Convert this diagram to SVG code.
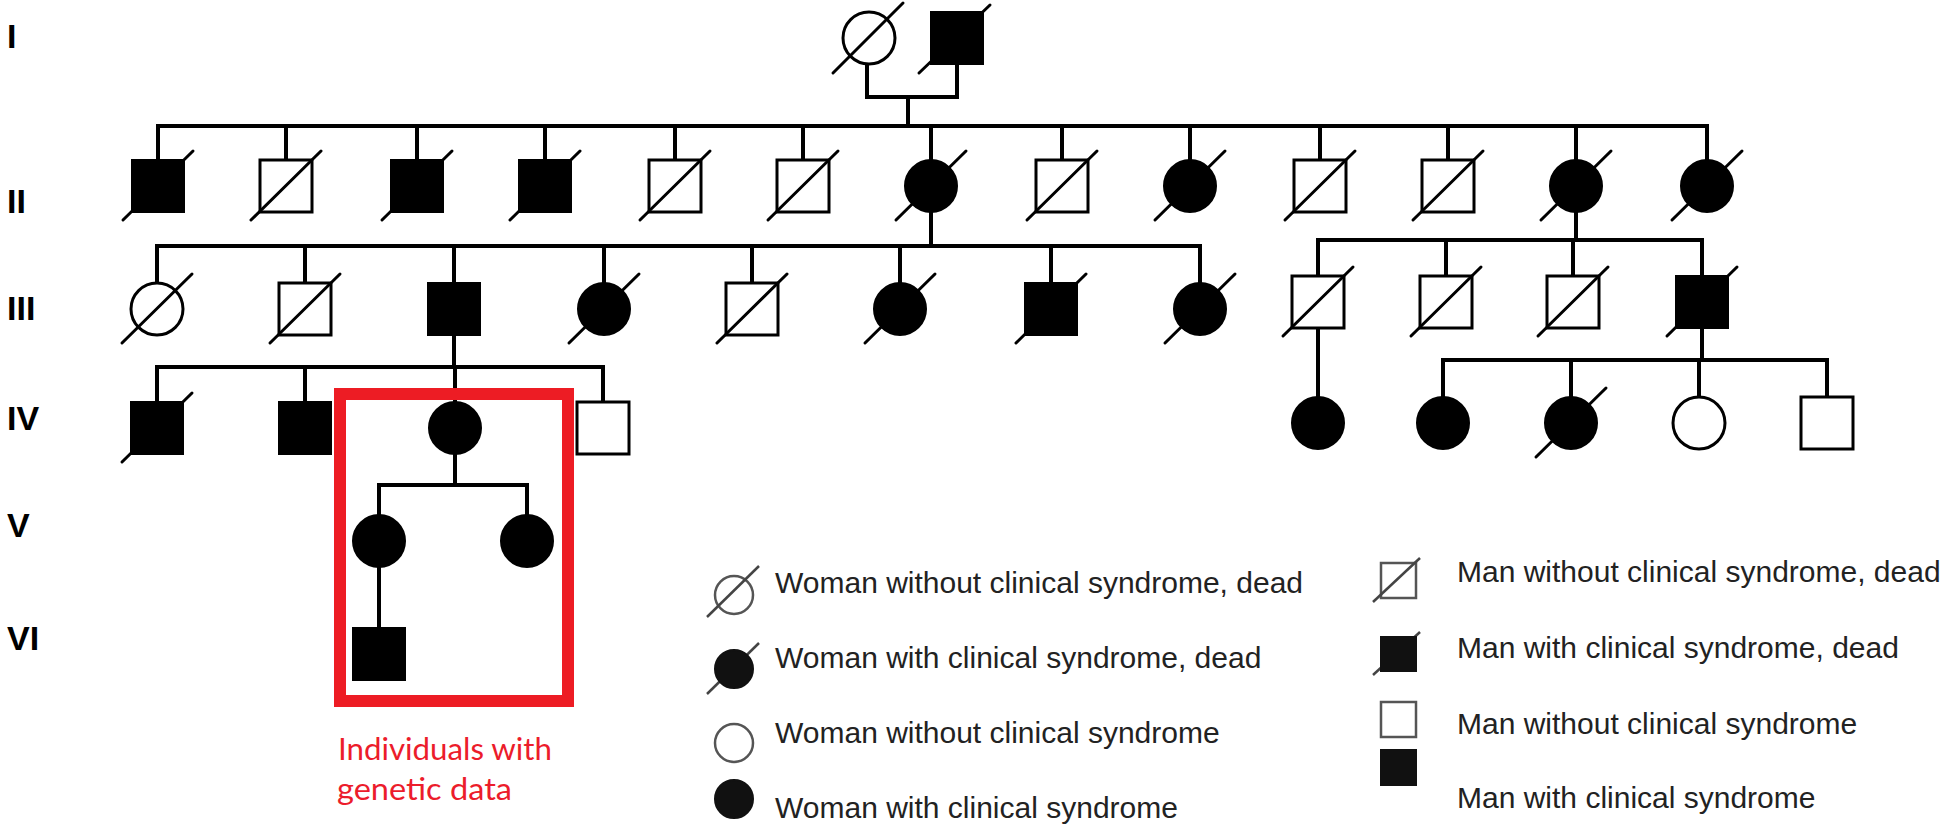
<svg xmlns="http://www.w3.org/2000/svg" width="1946" height="827" viewBox="0 0 1946 827">
<style>
.ln{stroke:#000;stroke-width:4;fill:none;stroke-linecap:square}
.f{fill:#000;stroke:#000;stroke-width:2}
.e{fill:#fff;stroke:#000;stroke-width:3}
.d{stroke:#000;stroke-width:3;stroke-linecap:round}
.gen{font-family:"Liberation Sans",Arial,sans-serif;font-weight:bold;font-size:34px;fill:#000}
.lg{font-family:"Liberation Sans",Arial,sans-serif;font-size:30px;fill:#222}
.le{fill:#fff;stroke:#555;stroke-width:2.5}
.lf{fill:#111;stroke:#111;stroke-width:2}
.ld{stroke:#444;stroke-width:2.5}
.red{font-family:Lato,"Open Sans",sans-serif;font-size:30px;fill:#ec1c2b}
</style>
<rect width="1946" height="827" fill="#fff"/>

<g id="generations">
<text class="gen" x="7" y="48">I</text>
<text class="gen" x="7" y="213">II</text>
<text class="gen" x="7" y="320">III</text>
<text class="gen" x="7" y="430">IV</text>
<text class="gen" x="7" y="537">V</text>
<text class="gen" x="7" y="650">VI</text>
</g>

<g id="connectors" class="ln">
<path d="M867 64V97H957V64M908 97V126"/>
<path d="M158 126H1707"/>
<path d="M158 126V160M286 126V160M417 126V160M545 126V160M675 126V160M803 126V160M931 126V160M1062 126V160M1190 126V160M1320 126V160M1448 126V160M1576 126V160M1707 126V160"/>
<path d="M931 212V246M157 246H1200"/>
<path d="M157 246V283M305 246V283M454 246V283M604 246V283M752 246V283M900 246V283M1051 246V283M1200 246V283"/>
<path d="M1576 212V240M1318 240H1702"/>
<path d="M1318 240V276M1446 240V276M1573 240V276M1702 240V276"/>
<path d="M454 335V367M157 367H603"/>
<path d="M157 367V402M305 367V402M455 367V402M603 367V402"/>
<path d="M1318 328V397"/>
<path d="M1702 328V360M1443 360H1827"/>
<path d="M1443 360V397M1571 360V397M1699 360V397M1827 360V397"/>
<path d="M455 454V485M379 485H527M379 485V515M527 485V515"/>
<path d="M379 567V628"/>
</g>

<g id="I-1"><circle class="e" cx="869" cy="38" r="26" stroke-width="2.5"/><line class="d" x1="833" y1="73" x2="903" y2="3"/></g>
<g id="I-2"><rect class="f" x="931" y="12" width="52" height="52"/><line class="d" x1="919" y1="73" x2="990" y2="5"/></g>

<g id="II-1"><rect class="f" x="132" y="160" width="52" height="52"/><line class="d" x1="123" y1="220" x2="193" y2="151"/></g>
<g id="II-2"><rect class="e" x="260" y="160" width="52" height="52"/><line class="d" x1="251" y1="220" x2="321" y2="151"/></g>
<g id="II-3"><rect class="f" x="391" y="160" width="52" height="52"/><line class="d" x1="382" y1="220" x2="452" y2="151"/></g>
<g id="II-4"><rect class="f" x="519" y="160" width="52" height="52"/><line class="d" x1="510" y1="220" x2="580" y2="151"/></g>
<g id="II-5"><rect class="e" x="649" y="160" width="52" height="52"/><line class="d" x1="640" y1="220" x2="710" y2="151"/></g>
<g id="II-6"><rect class="e" x="777" y="160" width="52" height="52"/><line class="d" x1="768" y1="220" x2="838" y2="151"/></g>
<g id="II-7"><circle class="f" cx="931" cy="186" r="26"/><line class="d" x1="896" y1="220" x2="966" y2="151"/></g>
<g id="II-8"><rect class="e" x="1036" y="160" width="52" height="52"/><line class="d" x1="1027" y1="220" x2="1097" y2="151"/></g>
<g id="II-9"><circle class="f" cx="1190" cy="186" r="26"/><line class="d" x1="1155" y1="220" x2="1225" y2="151"/></g>
<g id="II-10"><rect class="e" x="1294" y="160" width="52" height="52"/><line class="d" x1="1285" y1="220" x2="1355" y2="151"/></g>
<g id="II-11"><rect class="e" x="1422" y="160" width="52" height="52"/><line class="d" x1="1413" y1="220" x2="1483" y2="151"/></g>
<g id="II-12"><circle class="f" cx="1576" cy="186" r="26"/><line class="d" x1="1541" y1="220" x2="1611" y2="151"/></g>
<g id="II-13"><circle class="f" cx="1707" cy="186" r="26"/><line class="d" x1="1672" y1="220" x2="1742" y2="151"/></g>

<g id="III-1"><circle class="e" cx="157" cy="309" r="26" stroke-width="2.5"/><line class="d" x1="122" y1="343" x2="192" y2="274"/></g>
<g id="III-2"><rect class="e" x="279" y="283" width="52" height="52"/><line class="d" x1="270" y1="343" x2="340" y2="274"/></g>
<g id="III-3"><rect class="f" x="428" y="283" width="52" height="52"/></g>
<g id="III-4"><circle class="f" cx="604" cy="309" r="26"/><line class="d" x1="569" y1="343" x2="639" y2="274"/></g>
<g id="III-5"><rect class="e" x="726" y="283" width="52" height="52"/><line class="d" x1="717" y1="343" x2="787" y2="274"/></g>
<g id="III-6"><circle class="f" cx="900" cy="309" r="26"/><line class="d" x1="865" y1="343" x2="935" y2="274"/></g>
<g id="III-7"><rect class="f" x="1025" y="283" width="52" height="52"/><line class="d" x1="1016" y1="343" x2="1086" y2="274"/></g>
<g id="III-8"><circle class="f" cx="1200" cy="309" r="26"/><line class="d" x1="1165" y1="343" x2="1235" y2="274"/></g>
<g id="III-9"><rect class="e" x="1292" y="276" width="52" height="52"/><line class="d" x1="1283" y1="336" x2="1353" y2="267"/></g>
<g id="III-10"><rect class="e" x="1420" y="276" width="52" height="52"/><line class="d" x1="1411" y1="336" x2="1481" y2="267"/></g>
<g id="III-11"><rect class="e" x="1547" y="276" width="52" height="52"/><line class="d" x1="1538" y1="336" x2="1608" y2="267"/></g>
<g id="III-12"><rect class="f" x="1676" y="276" width="52" height="52"/><line class="d" x1="1667" y1="336" x2="1737" y2="267"/></g>

<g id="IV-1"><rect class="f" x="131" y="402" width="52" height="52"/><line class="d" x1="122" y1="462" x2="192" y2="393"/></g>
<g id="IV-2"><rect class="f" x="279" y="402" width="52" height="52"/></g>
<g id="IV-3"><circle class="f" cx="455" cy="428" r="26"/></g>
<g id="IV-4"><rect class="e" x="577" y="402" width="52" height="52"/></g>
<g id="IV-5"><circle class="f" cx="1318" cy="423" r="26"/></g>
<g id="IV-6"><circle class="f" cx="1443" cy="423" r="26"/></g>
<g id="IV-7"><circle class="f" cx="1571" cy="423" r="26"/><line class="d" x1="1536" y1="457" x2="1606" y2="388"/></g>
<g id="IV-8"><circle class="e" cx="1699" cy="423" r="26" stroke-width="2.5"/></g>
<g id="IV-9"><rect class="e" x="1801" y="397" width="52" height="52"/></g>

<g id="V-1"><circle class="f" cx="379" cy="541" r="26"/></g>
<g id="V-2"><circle class="f" cx="527" cy="541" r="26"/></g>
<g id="VI-1"><rect class="f" x="353" y="628" width="52" height="52"/></g>

<g id="genetic-data-box">
<rect x="340" y="394" width="228" height="307" fill="none" stroke="#ed1c24" stroke-width="12"/>
<text class="red" x="338" y="760" textLength="214" lengthAdjust="spacingAndGlyphs">Individuals with</text>
<text class="red" x="337" y="800" textLength="175" lengthAdjust="spacingAndGlyphs">genetic data</text>
</g>

<g id="legend">
<g id="lg-1"><circle class="le" cx="734" cy="595" r="19"/><line class="ld" x1="707" y1="617" x2="759" y2="566"/><text class="lg" x="775" y="593">Woman without clinical syndrome, dead</text></g>
<g id="lg-2"><line class="ld" x1="707" y1="694" x2="759" y2="643"/><circle class="lf" cx="734" cy="669" r="19"/><text class="lg" x="775" y="668">Woman with clinical syndrome, dead</text></g>
<g id="lg-3"><circle class="le" cx="734" cy="743" r="19"/><text class="lg" x="775" y="743">Woman without clinical syndrome</text></g>
<g id="lg-4"><circle class="lf" cx="734" cy="799" r="19"/><text class="lg" x="775" y="818">Woman with clinical syndrome</text></g>
<g id="lg-5"><rect class="le" x="1381" y="563" width="35" height="35"/><line class="ld" x1="1373" y1="602" x2="1420" y2="558"/><text class="lg" x="1457" y="582">Man without clinical syndrome, dead</text></g>
<g id="lg-6"><line class="ld" x1="1373" y1="675" x2="1420" y2="632"/><rect class="lf" x="1381" y="637" width="35" height="34"/><text class="lg" x="1457" y="658">Man with clinical syndrome, dead</text></g>
<g id="lg-7"><rect class="le" x="1381" y="702" width="35" height="35"/><text class="lg" x="1457" y="734">Man without clinical syndrome</text></g>
<g id="lg-8"><rect class="lf" x="1381" y="750" width="35" height="35"/><text class="lg" x="1457" y="808">Man with clinical syndrome</text></g>
</g>
</svg>
